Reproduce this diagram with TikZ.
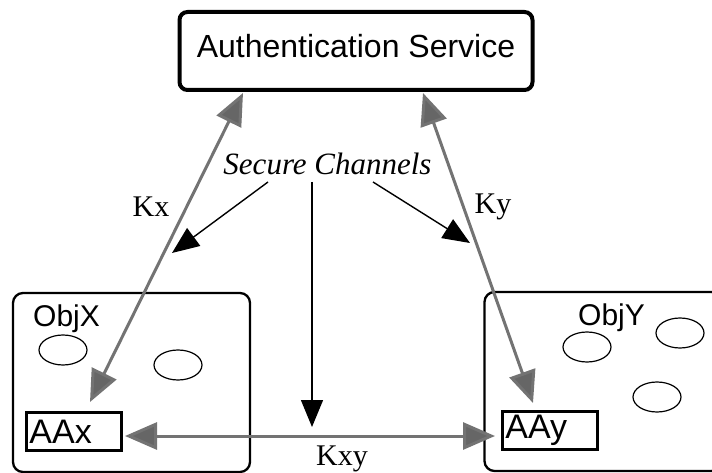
\documentclass[tikz,border=0pt]{standalone}
\usepackage{fontspec}
\setmainfont{Liberation Serif}
\newfontfamily\labelsans{Liberation Sans}
\usetikzlibrary{arrows.meta,shapes.geometric}

\tikzset{
  servicebox/.style={draw, line width=4pt, rounded corners=8pt, inner sep=0pt,
    minimum width=353pt, minimum height=78pt, text depth=10pt,
    font=\labelsans\fontsize{32}{32}\selectfont},
  objbox/.style={draw, line width=2.3pt, rounded corners=10pt, inner sep=0pt,
    minimum width=237pt, minimum height=179pt},
  aabox/.style={draw, line width=2.8pt, anchor=west, inner xsep=3pt, inner ysep=0pt,
    text width=89pt, align=left, minimum height=38pt,
    font=\labelsans\fontsize{34}{34}\selectfont},
  objlabel/.style={anchor=base west, inner sep=0pt, font=\labelsans\fontsize{30}{30}\selectfont},
  keylabel/.style={inner sep=0pt, font=\fontsize{30}{30}\selectfont},
  obj/.style={draw, line width=1.2pt, ellipse, minimum width=48pt, minimum height=30pt, inner sep=0pt},
  keyline/.style={draw=black!55, line width=3pt,
    {Triangle[length=32pt,width=27pt,fill=black!60]}-{Triangle[length=32pt,width=27pt,fill=black!60]}},
  chanline/.style={draw, line width=1.4pt, -{Triangle[length=27pt,width=22pt]}},
}

\begin{document}
\begin{tikzpicture}[x=1pt, y=-1pt]
  \useasboundingbox (0,0) rectangle (712,473);

  % Authentication service
  \node[servicebox] (auth) at (356,51) {Authentication Service};

  % Object X
  \node[objbox] (objx) at (131.5,382.5) {};
  \node[objlabel] (objxl) at (33,326) {ObjX};
  \node[obj] (ox1) at (63,350) {};
  \node[obj] (ox2) at (178,365) {};
  \node[aabox] (aax) at (25,431.5) {AAx};

  % Object Y
  \node[objbox] (objy) at (603,381.5) {};
  \node[objlabel] (objyl) at (578,325) {ObjY};
  \node[obj] (oy1) at (587,347) {};
  \node[obj] (oy2) at (680,333) {};
  \node[obj] (oy3) at (657,397) {};
  \node[aabox] (aay) at (501,430.5) {AAy};

  % Secure channels
  \node[keylabel, anchor=base, font=\itshape\fontsize{31}{31}\selectfont] (sc) at (327.5,175) {Secure Channels};
  \coordinate (scl) at (268,182);
  \coordinate (scm) at (312,182);
  \coordinate (scr) at (373,182);
  \coordinate (tl) at (172,253);
  \coordinate (tm) at (312,427);
  \coordinate (tr) at (470,243);
  \draw[chanline] (scl) -- (tl);
  \draw[chanline] (scm) -- (tm);
  \draw[chanline] (scr) -- (tr);

  % Keys
  \coordinate (kxa) at (243,93);
  \coordinate (kxb) at (90,402);
  \coordinate (kya) at (423,93);
  \coordinate (kyb) at (533,403);
  \coordinate (kxya) at (125,436);
  \coordinate (kxyb) at (495,436);
  \draw[keyline] (kxa) -- (kxb);
  \draw[keyline] (kya) -- (kyb);
  \draw[keyline] (kxya) -- (kxyb);

  \node[keylabel] (kx) at (151,207) {Kx};
  \node[keylabel] (ky) at (493,207) {Ky};
  \node[keylabel, anchor=base] (kxy) at (342,465) {Kxy};
\end{tikzpicture}
\end{document}
